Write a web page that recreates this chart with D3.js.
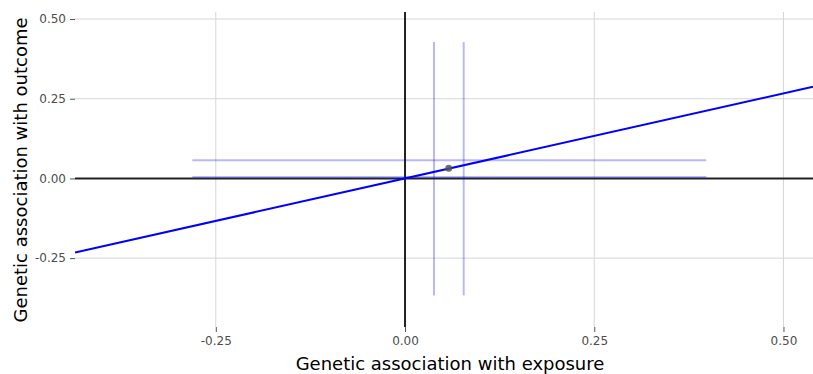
<!DOCTYPE html>
<html>
<head>
<meta charset="utf-8">
<script src="https://cdn.jsdelivr.net/npm/d3@7"></script>
<style>
  body { margin: 0; background: #fff; }
  text { font-family: "DejaVu Sans", sans-serif; }
</style>
</head>
<body>
<script>
// tick values for both axes
var xTicks = [-0.25, 0, 0.25, 0.5];
var yTicks = [-0.25, 0, 0.25, 0.5];

// one variant: exposure / outcome estimate
var bx = [0.0577], by = [0.032];
// horizontal error lines (y level, x from, x to)
var hLines = [[0.057, -0.281, 0.398], [0.0047, -0.281, 0.398]];
// vertical error lines (x level, y from, y to)
var vLines = [[0.0383, -0.367, 0.428], [0.0775, -0.367, 0.428]];
// fitted slope through origin
var slope = [0.533];

var W = 813, H = 374;
var m = {left: 75, right: 0, top: 12, bottom: 47};

var x = d3.scaleLinear().domain([-0.436, 0.539]).range([m.left, W - m.right]);
var y = d3.scaleLinear().domain([-0.466, 0.522]).range([H - m.bottom, m.top]);

var svg = d3.select("body").append("svg")
  .attr("width", W)
  .attr("height", H);

svg.append("defs").append("clipPath").attr("id", "clip")
  .append("rect")
  .attr("x", m.left).attr("y", m.top)
  .attr("width", W - m.left - m.right).attr("height", H - m.top - m.bottom);

// grid
var g = svg.append("g");
g.selectAll(".gx").data(xTicks).enter().append("line")
  .attr("x1", d => x(d)).attr("x2", d => x(d))
  .attr("y1", m.top).attr("y2", H - m.bottom)
  .attr("stroke", "#d6d6d6").attr("stroke-width", 1);
g.selectAll(".gy").data(yTicks).enter().append("line")
  .attr("y1", d => y(d)).attr("y2", d => y(d))
  .attr("x1", m.left).attr("x2", W - m.right)
  .attr("stroke", "#d6d6d6").attr("stroke-width", 1);

// axes (ticks + labels)
var fmt = function (d) { return d3.format(".2f")(d).replace("\u2212", "-"); };
var xAxis = svg.append("g")
  .attr("transform", "translate(0," + (H - m.bottom) + ")")
  .call(d3.axisBottom(x).tickValues(xTicks).tickFormat(fmt).tickSize(5).tickPadding(4));
var yAxis = svg.append("g")
  .attr("transform", "translate(" + m.left + ",0)")
  .call(d3.axisLeft(y).tickValues(yTicks).tickFormat(fmt).tickSize(5).tickPadding(4));
[xAxis, yAxis].forEach(function (a) {
  a.select(".domain").remove();
  a.selectAll(".tick line").attr("stroke", "#555");
  a.selectAll(".tick text").attr("fill", "#4d4d4d").style("font-size", "12px")
    .style("font-family", "DejaVu Sans, sans-serif");
});

var plot = svg.append("g").attr("clip-path", "url(#clip)");

// zero lines
plot.append("line")
  .attr("x1", m.left).attr("x2", W - m.right)
  .attr("y1", y(0)).attr("y2", y(0))
  .attr("stroke", "#222").attr("stroke-width", 2);
plot.append("line")
  .attr("x1", x(0)).attr("x2", x(0))
  .attr("y1", m.top).attr("y2", H - m.bottom)
  .attr("stroke", "#222").attr("stroke-width", 2);

// error lines
plot.selectAll(".hl").data(hLines).enter().append("line")
  .attr("x1", d => x(d[1])).attr("x2", d => x(d[2]))
  .attr("y1", d => y(d[0])).attr("y2", d => y(d[0]))
  .attr("stroke", "rgba(0,0,255,0.28)").attr("stroke-width", 2);
plot.selectAll(".vl").data(vLines).enter().append("line")
  .attr("x1", d => x(d[0])).attr("x2", d => x(d[0]))
  .attr("y1", d => y(d[1])).attr("y2", d => y(d[2]))
  .attr("stroke", "rgba(0,0,255,0.28)").attr("stroke-width", 2);

// fitted line
var xd = x.domain();
plot.append("line")
  .attr("x1", x(xd[0])).attr("y1", y(xd[0] * slope[0]))
  .attr("x2", x(xd[1])).attr("y2", y(xd[1] * slope[0]))
  .attr("stroke", "#0000ff").attr("stroke-width", 2);

// point
plot.selectAll(".pt").data(bx).enter().append("circle")
  .attr("cx", d => x(d)).attr("cy", (d, i) => y(by[i]))
  .attr("r", 3.5)
  .attr("fill", "#555").attr("fill-opacity", 0.85);

// titles
svg.append("text")
  .attr("x", 450).attr("y", 370)
  .attr("text-anchor", "middle")
  .style("font-size", "18px").attr("fill", "#000")
  .text("Genetic association with exposure");
svg.append("text")
  .attr("transform", "translate(27,170) rotate(-90)")
  .attr("text-anchor", "middle")
  .style("font-size", "18px").attr("fill", "#000")
  .text("Genetic association with outcome");
</script>
</body>
</html>
